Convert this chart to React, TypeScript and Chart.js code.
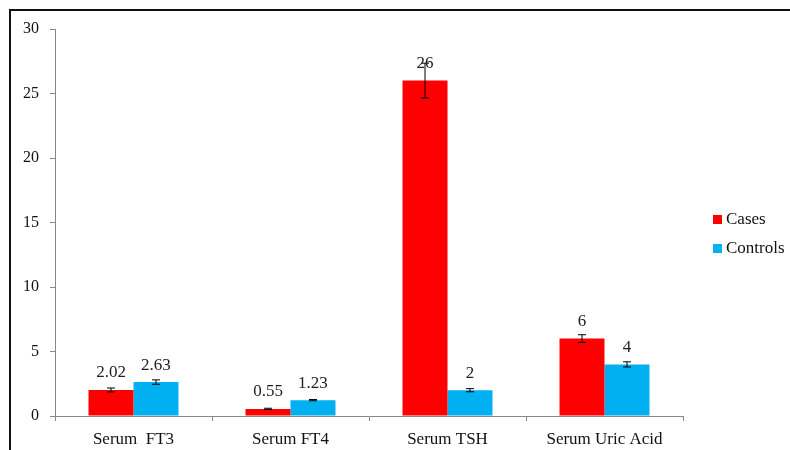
import React, { useEffect, useRef } from "react";
import { Chart, registerables } from "chart.js";

Chart.register(...registerables);

const categories = ["Serum  FT3", "Serum FT4", "Serum TSH", "Serum Uric Acid"];
const casesValues = [2.02, 0.55, 26, 6];
const controlsValues = [2.63, 1.23, 2, 4];
const casesErrors = [0.15, 0.05, 1.35, 0.3];
const controlsErrors = [0.17, 0.05, 0.12, 0.2];
const casesLabels = ["2.02", "0.55", "26", "6"];
const controlsLabels = ["2.63", "1.23", "2", "4"];
const yTicks = [0, 5, 10, 15, 20, 25, 30];

const FONT = "'Liberation Serif', 'Times New Roman', serif";

export default function App() {
  const ref = useRef<HTMLCanvasElement | null>(null);

  useEffect(() => {
    if (!ref.current) return;
    const errors = [casesErrors, controlsErrors];
    const labels = [casesLabels, controlsLabels];

    const overlay = {
      id: "overlay",
      afterDatasetsDraw(chart: any) {
        const ctx = chart.ctx;
        const y = chart.scales.y;
        ctx.save();
        chart.data.datasets.forEach((ds: any, di: number) => {
          const meta = chart.getDatasetMeta(di);
          meta.data.forEach((bar: any, i: number) => {
            const v = ds.data[i];
            const e = errors[di][i];
            const x = bar.x;
            const yTop = y.getPixelForValue(v + e);
            const yBot = y.getPixelForValue(v - e);
            ctx.strokeStyle = "#000";
            ctx.lineWidth = 1;
            ctx.beginPath();
            ctx.moveTo(x, yTop);
            ctx.lineTo(x, yBot);
            ctx.moveTo(x - 4, yTop);
            ctx.lineTo(x + 4, yTop);
            ctx.moveTo(x - 4, yBot);
            ctx.lineTo(x + 4, yBot);
            ctx.stroke();
            ctx.fillStyle = "#222";
            ctx.font = `17px ${FONT}`;
            ctx.textAlign = "center";
            ctx.textBaseline = "middle";
            ctx.fillText(labels[di][i], x, y.getPixelForValue(v) - 17);
          });
        });
        // legend
        const items = chart.data.datasets;
        items.forEach((ds: any, di: number) => {
          const cy = 219 + di * 29;
          ctx.fillStyle = ds.backgroundColor;
          ctx.fillRect(713, cy - 4, 9, 9);
          ctx.fillStyle = "#111";
          ctx.font = `17px ${FONT}`;
          ctx.textAlign = "left";
          ctx.textBaseline = "middle";
          ctx.fillText(ds.label, 726, cy + 1);
        });
        ctx.restore();
      },
    };

    const chart = new Chart(ref.current, {
      type: "bar",
      data: {
        labels: categories,
        datasets: [
          {
            label: "Cases",
            data: casesValues,
            backgroundColor: "#FF0000",
            borderWidth: 0,
            categoryPercentage: 0.573,
            barPercentage: 1,
          },
          {
            label: "Controls",
            data: controlsValues,
            backgroundColor: "#00B0F0",
            borderWidth: 0,
            categoryPercentage: 0.573,
            barPercentage: 1,
          },
        ],
      },
      options: {
        animation: false,
        responsive: false,
        devicePixelRatio: 1,
        layout: { padding: { left: 0, top: 29, right: 107, bottom: 0 } },
        plugins: {
          legend: { display: false },
          tooltip: { enabled: false },
        },
        scales: {
          x: {
            offset: true,
            grid: {
              offset: true,
              drawOnChartArea: false,
              tickLength: 5,
              color: "#888",
            },
            border: { color: "#888" },
            ticks: {
              color: "#111",
              font: { family: FONT, size: 17 },
              padding: 8,
              maxRotation: 0,
            },
            afterFit(scale: any) {
              scale.height = 34;
            },
          },
          y: {
            min: 0,
            max: 30,
            afterBuildTicks(scale: any) {
              scale.ticks = yTicks.map((v) => ({ value: v }));
            },
            grid: {
              drawOnChartArea: false,
              tickLength: 5,
              color: "#888",
            },
            border: { color: "#888" },
            ticks: {
              color: "#111",
              font: { family: FONT, size: 16 },
              padding: 11,
            },
            afterFit(scale: any) {
              scale.width = 55;
            },
          },
        },
      },
      plugins: [overlay],
    });
    return () => chart.destroy();
  }, []);

  return (
    <div style={{ position: "fixed", left: 0, top: 0, width: 790, height: 450, background: "#fff", overflow: "hidden" }}>
      <canvas ref={ref} width={790} height={450} style={{ position: "absolute", left: 0, top: 0 }} />
      <div
        style={{
          position: "absolute",
          left: 9,
          top: 9,
          width: 800,
          height: 460,
          borderTop: "2px solid #111",
          borderLeft: "2px solid #111",
          pointerEvents: "none",
        }}
      />
    </div>
  );
}
